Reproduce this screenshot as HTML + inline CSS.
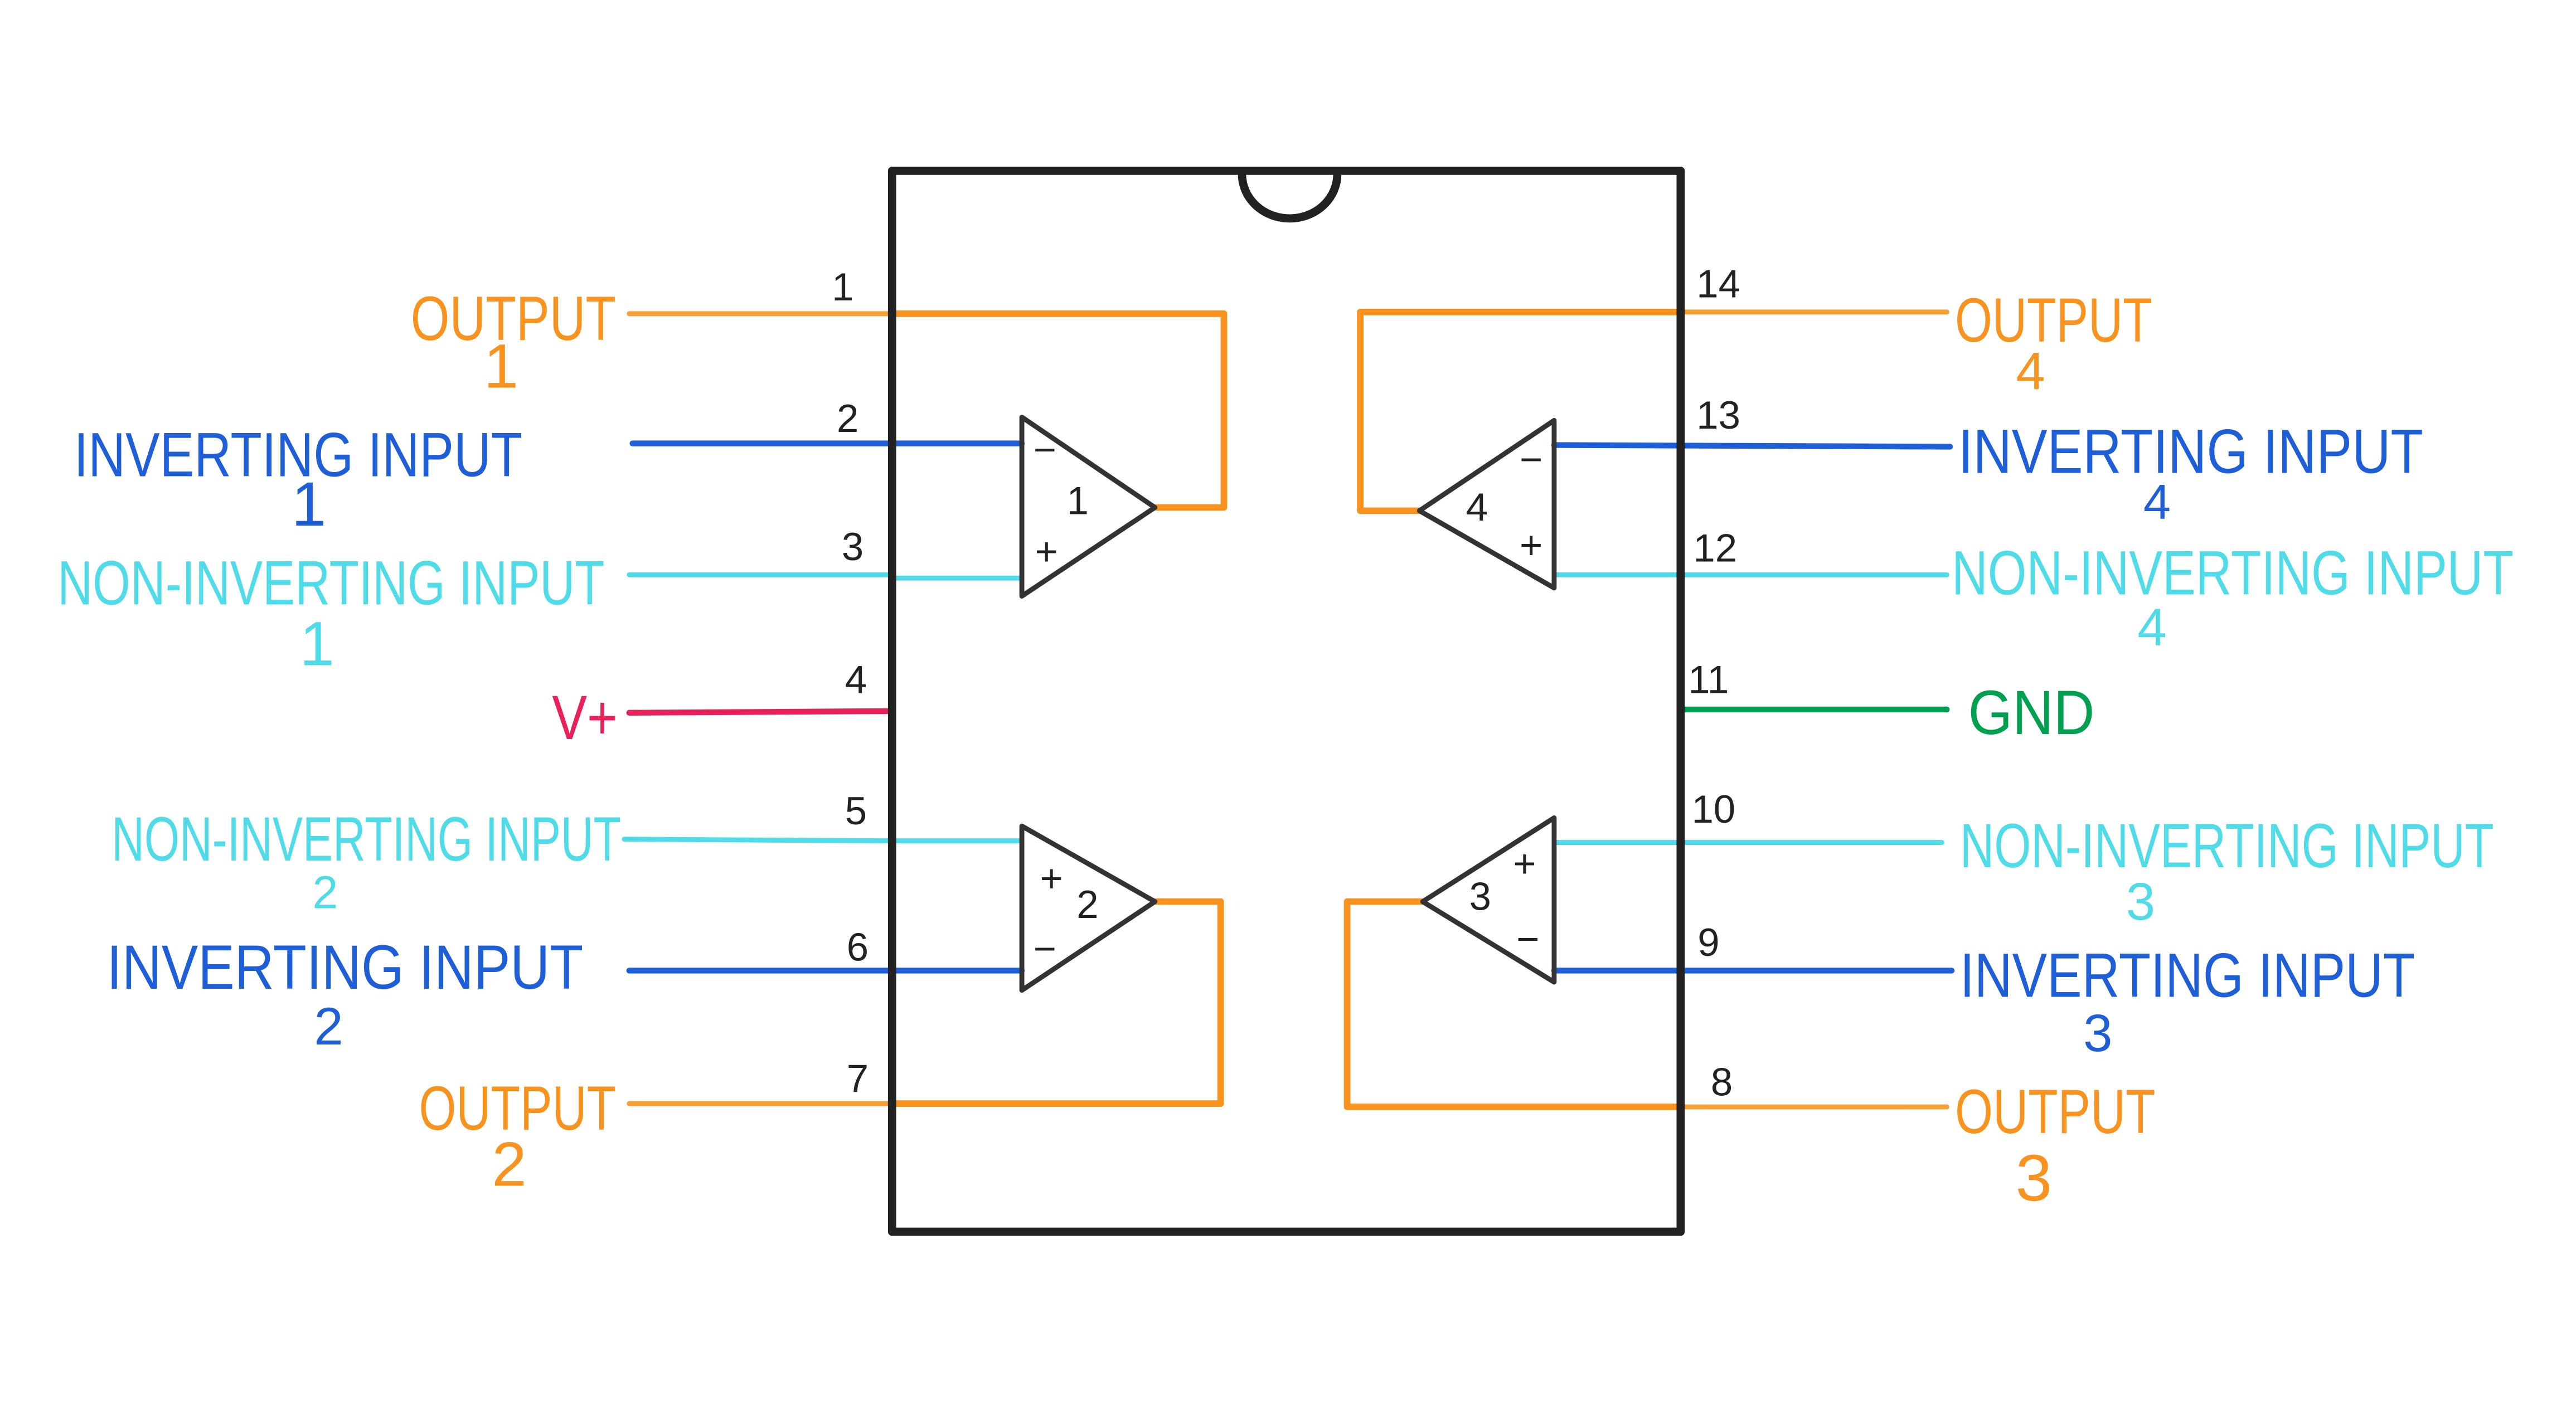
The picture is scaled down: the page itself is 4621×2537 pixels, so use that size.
<!DOCTYPE html>
<html><head><meta charset="utf-8"><style>
html,body{margin:0;padding:0;background:#fff;}
svg{display:block;}
text{font-family:"Liberation Sans Narrow","Liberation Sans",sans-serif;}
</style></head><body>
<svg width="4621" height="2537" viewBox="0 0 1568 861" preserveAspectRatio="none" xmlns="http://www.w3.org/2000/svg">
<rect width="1568" height="861" fill="#fff"/>
<g fill="none" stroke-linecap="round" stroke-linejoin="round">
<!-- left pin lines -->
<line x1="383" y1="191" x2="543" y2="191" stroke="#f7a033" stroke-width="3"/>
<line x1="385" y1="270" x2="543" y2="270" stroke="#1e5fd8" stroke-width="3.5"/>
<line x1="383" y1="350" x2="543" y2="350" stroke="#4fdbe8" stroke-width="3"/>
<line x1="383" y1="434" x2="543" y2="433" stroke="#e8215a" stroke-width="3.5"/>
<line x1="380" y1="511" x2="543" y2="512" stroke="#4fdbe8" stroke-width="3"/>
<line x1="383" y1="591" x2="543" y2="591" stroke="#1e5fd8" stroke-width="3.5"/>
<line x1="383" y1="672" x2="543" y2="672" stroke="#f7a033" stroke-width="3"/>
<!-- right pin lines -->
<line x1="1023" y1="190" x2="1185" y2="190" stroke="#f7a033" stroke-width="3"/>
<line x1="946" y1="271" x2="1187" y2="272" stroke="#1e5fd8" stroke-width="3.5"/>
<line x1="946" y1="350" x2="1185" y2="350" stroke="#4fdbe8" stroke-width="3"/>
<line x1="1023" y1="432" x2="1185" y2="432" stroke="#00a050" stroke-width="3.5"/>
<line x1="946" y1="513" x2="1182" y2="513" stroke="#4fdbe8" stroke-width="3"/>
<line x1="946" y1="591" x2="1188" y2="591" stroke="#1e5fd8" stroke-width="3.5"/>
<line x1="1023" y1="674" x2="1185" y2="674" stroke="#f7a033" stroke-width="3"/>
<!-- inner inputs -->
<line x1="543" y1="270" x2="622" y2="270" stroke="#1e5fd8" stroke-width="3.5"/>
<line x1="543" y1="352" x2="622" y2="352" stroke="#4fdbe8" stroke-width="3"/>
<line x1="543" y1="512" x2="622" y2="512" stroke="#4fdbe8" stroke-width="3"/>
<line x1="543" y1="591" x2="622" y2="591" stroke="#1e5fd8" stroke-width="3.5"/>
<!-- outputs orange -->
<polyline points="703,309 745,309 745,191 543,191" stroke="#f7931e" stroke-width="4"/>
<polyline points="864,311 828,311 828,190 1023,190" stroke="#f7931e" stroke-width="4"/>
<polyline points="703,549 743,549 743,672 543,672" stroke="#f7931e" stroke-width="4"/>
<polyline points="866,549 820,549 820,674 1023,674" stroke="#f7931e" stroke-width="4"/>
<!-- chip -->
<rect x="543" y="104" width="480" height="646" stroke="#222" stroke-width="5"/>
<path d="M756,106 A29,27 0 0 0 814,106" stroke="#222" stroke-width="5"/>
<!-- triangles -->
<polygon points="622,254 622,363 703,309" stroke="#333" stroke-width="3"/>
<polygon points="946,256 946,358 864,311" stroke="#333" stroke-width="3"/>
<polygon points="622,503 622,603 703,549" stroke="#333" stroke-width="3"/>
<polygon points="946,498 946,598 866,549" stroke="#333" stroke-width="3"/>
</g>
<!-- op-amp labels -->
<g fill="#222" font-size="24" text-anchor="middle">
<text x="656" y="313">1</text><text x="636" y="282">−</text><text x="637" y="344">+</text>
<text x="899" y="317">4</text><text x="932" y="288">−</text><text x="932" y="340">+</text>
<text x="640" y="543">+</text><text x="662" y="559">2</text><text x="636" y="586">−</text>
<text x="928" y="534">+</text><text x="901" y="554">3</text><text x="930" y="580">−</text>
</g>
<!-- pin numbers -->
<g fill="#222" font-size="24" text-anchor="middle">
<text x="513" y="183">1</text><text x="516" y="263">2</text><text x="519" y="341">3</text>
<text x="521" y="422">4</text><text x="521" y="502">5</text><text x="522" y="585">6</text>
<text x="522" y="665">7</text>
<text x="1046" y="181">14</text><text x="1046" y="261">13</text><text x="1044" y="342">12</text>
<text x="1040" y="422">11</text><text x="1043" y="501">10</text><text x="1040" y="582">9</text>
<text x="1048" y="667">8</text>
</g>
<!-- left labels -->
<g font-size="38">
<text x="250" y="207" fill="#f7931e" textLength="125" lengthAdjust="spacingAndGlyphs">OUTPUT</text>
<text x="305" y="236" fill="#f7931e" text-anchor="middle">1</text>
<text x="45" y="290" fill="#1e5fd8" textLength="273" lengthAdjust="spacingAndGlyphs">INVERTING INPUT</text>
<text x="188" y="320" fill="#1e5fd8" text-anchor="middle">1</text>
<text x="35" y="368" fill="#4fdbe8" textLength="333" lengthAdjust="spacingAndGlyphs">NON-INVERTING INPUT</text>
<text x="193" y="405" fill="#4fdbe8" text-anchor="middle">1</text>
<text x="336" y="450" fill="#e8215a" textLength="40" lengthAdjust="spacingAndGlyphs">V+</text>
<text x="68" y="524" fill="#4fdbe8" textLength="310" lengthAdjust="spacingAndGlyphs">NON-INVERTING INPUT</text>
<text x="198" y="553" fill="#4fdbe8" text-anchor="middle" font-size="28">2</text>
<text x="65" y="602" fill="#1e5fd8" textLength="290" lengthAdjust="spacingAndGlyphs">INVERTING INPUT</text>
<text x="200" y="636" fill="#1e5fd8" text-anchor="middle" font-size="32">2</text>
<text x="255" y="688" fill="#f7931e" textLength="120" lengthAdjust="spacingAndGlyphs">OUTPUT</text>
<text x="310" y="722" fill="#f7931e" text-anchor="middle">2</text>
</g>
<!-- right labels -->
<g font-size="38">
<text x="1190" y="208" fill="#f7931e" textLength="120" lengthAdjust="spacingAndGlyphs">OUTPUT</text>
<text x="1236" y="237" fill="#f7931e" text-anchor="middle" font-size="32">4</text>
<text x="1192" y="288" fill="#1e5fd8" textLength="283" lengthAdjust="spacingAndGlyphs">INVERTING INPUT</text>
<text x="1313" y="316" fill="#1e5fd8" text-anchor="middle" font-size="30">4</text>
<text x="1188" y="362" fill="#4fdbe8" textLength="342" lengthAdjust="spacingAndGlyphs">NON-INVERTING INPUT</text>
<text x="1310" y="393" fill="#4fdbe8" text-anchor="middle" font-size="32">4</text>
<text x="1198" y="447" fill="#00a050" textLength="77" lengthAdjust="spacingAndGlyphs">GND</text>
<text x="1193" y="528" fill="#4fdbe8" textLength="325" lengthAdjust="spacingAndGlyphs">NON-INVERTING INPUT</text>
<text x="1303" y="560" fill="#4fdbe8" text-anchor="middle" font-size="32">3</text>
<text x="1193" y="607" fill="#1e5fd8" textLength="277" lengthAdjust="spacingAndGlyphs">INVERTING INPUT</text>
<text x="1277" y="640" fill="#1e5fd8" text-anchor="middle" font-size="32">3</text>
<text x="1190" y="690" fill="#f7931e" textLength="122" lengthAdjust="spacingAndGlyphs">OUTPUT</text>
<text x="1238" y="731" fill="#f7931e" text-anchor="middle" font-size="40">3</text>
</g>
</svg>
</body></html>
